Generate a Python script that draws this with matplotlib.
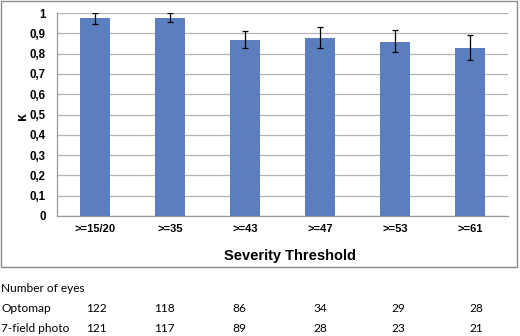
import matplotlib
matplotlib.use("Agg")
import matplotlib.pyplot as plt
from matplotlib.patches import Rectangle
from matplotlib.transforms import blended_transform_factory

# data
thresholds = [">=15/20", ">=35", ">=43", ">=47", ">=53", ">=61"]
kappa = [0.973, 0.975, 0.868, 0.875, 0.858, 0.828]
err_up = [0.027, 0.025, 0.045, 0.054, 0.060, 0.062]
err_down = [0.027, 0.020, 0.042, 0.049, 0.052, 0.061]
yticks = [0, 0.1, 0.2, 0.3, 0.4, 0.5, 0.6, 0.7, 0.8, 0.9, 1.0]
ytick_labels = ["0", "0,1", "0,2", "0,3", "0,4", "0,5", "0,6", "0,7", "0,8", "0,9", "1"]
optomap_n = [122, 118, 86, 34, 29, 28]
photo_n = [121, 117, 89, 28, 23, 21]

W, H = 520, 336
fig = plt.figure(figsize=(W / 100, H / 100), dpi=100)
fig.patch.set_facecolor("white")

ax = fig.add_axes([57 / W, 1 - 216 / H, (508 - 57) / W, (216 - 13) / H])
x = list(range(len(thresholds)))
ax.bar(x, kappa, width=0.4, color="#5b7fbe", zorder=3)
ax.errorbar(x, kappa, yerr=[err_down, err_up], fmt="none", ecolor="black",
            elinewidth=0.9, capsize=2.5, capthick=0.9, zorder=4)

ax.set_xlim(-0.5, 5.5)
ax.set_ylim(0, 1)
ax.set_yticks(yticks)
ax.set_yticklabels(ytick_labels, fontsize=8.3, fontweight="bold", family="Liberation Sans")
ax.set_xticks(x)
ax.set_xticklabels(thresholds, fontsize=8, fontweight="bold", family="Liberation Sans")
ax.tick_params(length=0, pad=8)
ax.tick_params(axis="x", pad=6)
ax.grid(axis="y", color="#b4b4b4", linewidth=0.9, zorder=0)
for side in ["top", "right"]:
    ax.spines[side].set_visible(False)
for side in ["left", "bottom"]:
    ax.spines[side].set_color("#9a9a9a")
    ax.spines[side].set_linewidth(0.9)

fig.text(22 / W, 1 - 116 / H, "κ", rotation=90, fontsize=10, fontweight="bold",
         family="Liberation Sans", ha="center", va="center")
fig.text(290 / W, 1 - 256 / H, "Severity Threshold", fontsize=10.5, fontweight="bold",
         family="Liberation Sans", ha="center", va="center")

# chart border
fig.patches.append(Rectangle((1 / W, 1 - 267 / H), (517 - 1) / W, (267 - 1) / H,
                             transform=fig.transFigure, fill=False,
                             edgecolor="#8c8c8c", linewidth=1.0))

# table of eye counts below the chart
tf = "Lato"
fs = 8.6
fig.text(1 / W, 1 - 289 / H, "Number of eyes", fontsize=fs, family=tf, va="center")
fig.text(1 / W, 1 - 309 / H, "Optomap", fontsize=fs, family=tf, va="center")
fig.text(1 / W, 1 - 328 / H, "7-field photo", fontsize=fs, family=tf, va="center")
trans = blended_transform_factory(ax.transData, fig.transFigure)
col_shift = [0.03, -0.07, -0.07, 0.0, 0.04, 0.08]
for i in x:
    fig.text(i + col_shift[i], 1 - 309 / H, str(optomap_n[i]), fontsize=fs, family=tf,
             ha="center", va="center", transform=trans)
    fig.text(i + col_shift[i], 1 - 328 / H, str(photo_n[i]), fontsize=fs, family=tf,
             ha="center", va="center", transform=trans)

fig.savefig("out.png", dpi=100)
